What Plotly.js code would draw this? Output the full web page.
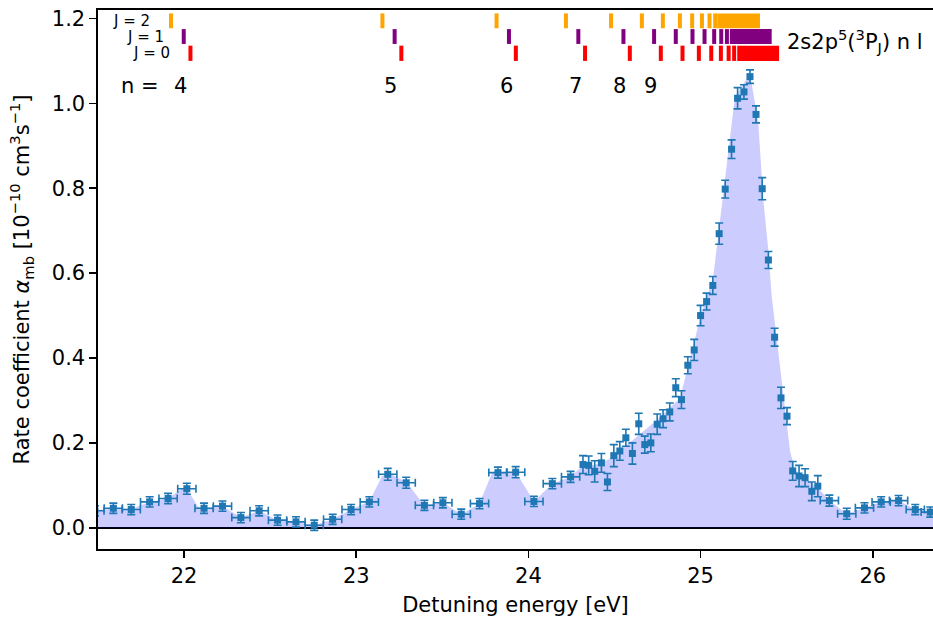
<!DOCTYPE html>
<html><head><meta charset="utf-8">
<script src="https://cdn.plot.ly/plotly-3.0.1.min.js"></script>
<style>html,body{margin:0;padding:0;background:#fff}#chart{width:933px;height:619px}</style>
</head><body><div id="chart"></div>
<script>
// Measured points with energy bin widths (sparse scan)
const sparseX = [21.482,21.589,21.693,21.800,21.907,22.016,22.116,22.223,22.330,22.436,22.543,22.650,22.756,22.863,22.970,23.076,23.183,23.290,23.396,23.503,23.610,23.716,23.823,23.926,24.032,24.139,24.245,
                 25.748,25.849,25.952,26.049,26.150,26.247,26.334];
const sparseY = [0.040,0.046,0.043,0.061,0.069,0.092,0.046,0.051,0.024,0.040,0.018,0.014,0.006,0.020,0.043,0.061,0.126,0.106,0.053,0.059,0.032,0.057,0.130,0.131,0.062,0.104,0.120,
                 0.064,0.033,0.047,0.061,0.064,0.043,0.037];
const sparseXErr = [0.053,0.053,0.053,0.053,0.053,0.053,0.053,0.053,0.053,0.053,0.053,0.053,0.053,0.053,0.053,0.053,0.053,0.053,0.053,0.053,0.053,0.053,0.053,0.053,0.053,0.053,0.053,
                    0.053,0.053,0.053,0.053,0.053,0.053,0.053];
const sparseYErr = [0.012,0.012,0.012,0.012,0.012,0.013,0.012,0.012,0.012,0.012,0.012,0.012,0.012,0.012,0.012,0.012,0.014,0.013,0.012,0.012,0.012,0.012,0.013,0.013,0.012,0.012,0.013,
                    0.013,0.013,0.012,0.012,0.012,0.012,0.012];

// Measured points (dense scan, no energy bars)
const denseX = [24.317,24.350,24.385,24.424,24.459,24.496,24.531,24.566,24.604,24.641,24.676,24.711,24.748,24.782,24.821,24.856,24.889,24.926,24.963,25.000,
                25.035,25.071,25.108,25.143,25.180,25.215,25.252,25.287,25.322,25.358,25.394,25.430,25.467,25.502,25.535,25.572,25.607,25.646,25.681];
const denseY = [0.149,0.147,0.133,0.153,0.108,0.170,0.181,0.212,0.175,0.245,0.196,0.200,0.244,0.257,0.273,0.330,0.302,0.383,0.419,0.500,
                0.533,0.571,0.693,0.798,0.892,1.012,1.027,1.063,0.974,0.799,0.631,0.449,0.306,0.263,0.134,0.122,0.118,0.086,0.098];
const denseYErr = [0.021,0.022,0.025,0.022,0.020,0.026,0.022,0.020,0.025,0.025,0.020,0.021,0.024,0.021,0.021,0.021,0.021,0.020,0.025,0.024,
                   0.020,0.021,0.025,0.021,0.022,0.025,0.017,0.016,0.020,0.026,0.020,0.021,0.025,0.020,0.022,0.025,0.021,0.022,0.025];

// Shaded model curve
const modelX = [21.48,21.589,21.693,21.800,21.907,21.99,22.016,22.08,22.116,22.223,22.330,22.436,22.543,22.650,22.756,22.863,22.970,23.076,23.15,23.20,23.29,23.396,23.503,23.610,23.716,23.79,23.926,24.032,24.139,24.245,
                24.30,24.40,24.47,24.55,24.61,24.68,24.75,24.82,24.88,24.93,25.00,25.073,25.093,25.128,25.20,25.287,25.335,25.364,25.393,25.413,25.461,25.52,25.55,25.607,25.68,
                25.748,25.849,25.952,26.049,26.150,26.247,26.36];
const modelY = [0.040,0.046,0.044,0.061,0.069,0.093,0.092,0.050,0.046,0.051,0.024,0.040,0.018,0.014,0.006,0.020,0.043,0.062,0.122,0.126,0.108,0.053,0.059,0.032,0.057,0.131,0.132,0.062,0.104,0.120,
                0.140,0.150,0.162,0.190,0.208,0.232,0.255,0.282,0.305,0.385,0.499,0.590,0.656,0.774,1.017,1.069,0.955,0.774,0.656,0.546,0.381,0.180,0.135,0.118,0.095,
                0.064,0.033,0.047,0.061,0.064,0.043,0.037];

// Resonance positions 2s2p5(3P_J) nl, n = 4..15, followed by the unresolved series up to the limit
const levelsJ2 = [21.924,23.152,23.815,24.218,24.480,24.659,24.781,24.880,24.951,25.008,25.052,25.085];
const levelsJ1 = [21.998,23.223,23.887,24.290,24.552,24.730,24.856,24.953,25.023,25.079,25.120,25.153];
const levelsJ0 = [22.037,23.262,23.927,24.329,24.589,24.769,24.895,24.990,25.062,25.118,25.163,25.195];
const bandJ2 = [25.097,25.345];
const bandJ1 = [25.170,25.413];
const bandJ0 = [25.213,25.456];
const jLabels = ['J = 2','J = 1','J = 0'];
const nLabels = ['4','5','6','7','8','9'];
const nLabelX = [21.98,23.20,23.87,24.273,24.528,24.711];

const blue = '#1f77b4';
const font = 'DejaVu Sans, sans-serif';

const rows = [
  {lv: levelsJ2, band: bandJ2, color: 'orange', y0: 1.177, y1: 1.212},
  {lv: levelsJ1, band: bandJ1, color: 'purple', y0: 1.140, y1: 1.175},
  {lv: levelsJ0, band: bandJ0, color: 'red',    y0: 1.100, y1: 1.136}
];
const shapes = [];
rows.forEach(r => {
  r.lv.forEach(x => shapes.push({type:'line', xref:'x', yref:'y', x0:x, x1:x, y0:r.y0, y1:r.y1, line:{color:r.color, width:4}}));
  shapes.push({type:'rect', xref:'x', yref:'y', x0:r.band[0], x1:r.band[1], y0:r.y0, y1:r.y1, line:{width:0}, fillcolor:r.color});
});

const annotations = [];
const jY = [1.194, 1.157, 1.118];
const jX = [21.816, 21.894, 21.932];
jLabels.forEach((t,i) => annotations.push({text:t, x:jX[i], y:jY[i], xref:'x', yref:'y', xanchor:'right', yanchor:'middle', showarrow:false, font:{family:font, size:15, color:'#000'}}));
annotations.push({text:'n =', x:21.864, y:1.040, xref:'x', yref:'y', xanchor:'right', yanchor:'middle', showarrow:false, font:{family:font, size:21, color:'#000'}});
nLabels.forEach((t,i) => annotations.push({text:t, x:nLabelX[i], y:1.040, xref:'x', yref:'y', xanchor:'center', yanchor:'middle', showarrow:false, font:{family:font, size:21, color:'#000'}}));
annotations.push({text:'2s2p<sup>5</sup>(<sup>3</sup>P<sub>J</sub>) n l', x:25.49, y:1.147, xref:'x', yref:'y', xanchor:'left', yanchor:'middle', showarrow:false, font:{family:font, size:21, color:'#000'}});

const traces = [
  {x:modelX, y:modelY, type:'scatter', mode:'lines', line:{width:0, color:'rgba(0,0,255,0)'}, fill:'tozeroy', fillcolor:'rgba(0,0,255,0.2)', hoverinfo:'skip'},
  {x:sparseX, y:sparseY, type:'scatter', mode:'markers', marker:{symbol:'square', size:7, color:blue},
   error_x:{type:'data', array:sparseXErr, visible:true, color:blue, thickness:1.6, width:4},
   error_y:{type:'data', array:sparseYErr, visible:true, color:blue, thickness:1.6, width:4}},
  {x:denseX, y:denseY, type:'scatter', mode:'markers', marker:{symbol:'square', size:7, color:blue},
   error_y:{type:'data', array:denseYErr, visible:true, color:blue, thickness:1.6, width:4}}
];

const layout = {
  width:933, height:619,
  margin:{l:98, r:0, t:10, b:70},
  paper_bgcolor:'#fff', plot_bgcolor:'#fff',
  showlegend:false,
  font:{family:font, size:21, color:'#000'},
  xaxis:{range:[21.5,26.35], tickvals:[22,23,24,25,26], ticktext:['22','23','24','25','26'],
         showgrid:false, zeroline:false, showline:true, linecolor:'#000', linewidth:1.6, mirror:true,
         ticks:'outside', ticklen:7, tickwidth:1.6, tickcolor:'#000', tickfont:{family:font, size:21, color:'#000'},
         title:{text:'Detuning energy [eV]', font:{family:font, size:21, color:'#000'}, standoff:10}},
  yaxis:{range:[-0.05,1.22], tickvals:[0,0.2,0.4,0.6,0.8,1.0,1.2], ticktext:['0.0','0.2','0.4','0.6','0.8','1.0','1.2'],
         showgrid:false, zeroline:true, zerolinecolor:'#000', zerolinewidth:2, showline:true, linecolor:'#000', linewidth:1.6, mirror:false,
         ticks:'outside', ticklen:7, tickwidth:1.6, tickcolor:'#000', tickfont:{family:font, size:21, color:'#000'},
         title:{text:'Rate coefficient <i>α</i><sub>mb</sub> [10<sup>−10</sup> cm<sup>3</sup>s<sup>−1</sup>]', font:{family:font, size:21, color:'#000'}, standoff:16}},
  shapes:shapes,
  annotations:annotations
};
Plotly.newPlot('chart', traces, layout, {staticPlot:true, displayModeBar:false});
</script></body></html>
